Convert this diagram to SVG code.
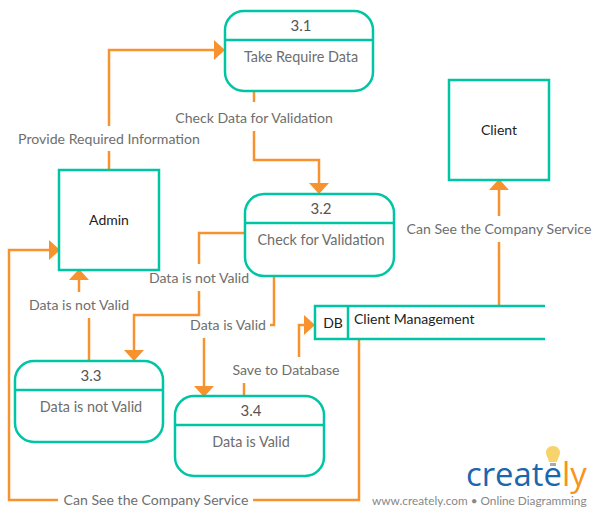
<svg xmlns="http://www.w3.org/2000/svg" width="601" height="517" viewBox="0 0 601 517">
<style>
text{font-family:Lato,"Open Sans","Liberation Sans",sans-serif}
.n{fill:#fff;stroke:#00c5a4;stroke-width:2.5}
.d{fill:none;stroke:#00c5a4;stroke-width:2.5}
.c{fill:none;stroke:#f7922e;stroke-width:2.5;marker-end:url(#h)}
.l{font-size:14.1px;fill:#6e6e6e;text-anchor:middle}
.m{font-size:14.4px;fill:#6e6e6e;text-anchor:middle}
.t{font-size:15px;fill:#555;text-anchor:middle}
.b{font-size:14px;fill:#222;text-anchor:middle}
</style>
<defs><marker id="h" markerUnits="userSpaceOnUse" markerWidth="12" markerHeight="22" refX="0" refY="11" orient="auto"><path d="M0 1L11 11L0 21Z" fill="#f7922e"/></marker></defs>
<g id="connectors">
<path class="c" d="M109 170V151M109 126V50H214"/>
<path class="c" d="M254 90V102M254 131V160H319V183"/>
<path class="c" d="M245 233H199V264M199 291V315H134V350"/>
<path class="c" d="M89 361V318M79 292V280"/>
<path class="c" d="M274 276V325H270M204 338V386"/>
<path class="c" d="M244 396V383M299 357V325H304"/>
<path class="c" d="M499 306V242M499 216V190"/>
<path class="c" d="M359 339V500H253M58 500H9V250H49"/>
</g>
<g id="node-3-1"><rect class="n" x="225" y="11" width="148" height="80" rx="19"/><path class="d" d="M225 40H373"/><text class="t" x="301" y="31">3.1</text><text class="m" x="301" y="62">Take Require Data</text></g>
<g id="node-3-2"><rect class="n" x="245" y="194" width="149" height="82" rx="19"/><path class="d" d="M245 223H394"/><text class="t" x="321" y="214">3.2</text><text class="m" x="321" y="245">Check for Validation</text></g>
<g id="node-3-3"><rect class="n" x="15" y="361" width="148" height="81" rx="19"/><path class="d" d="M15 390H163"/><text class="t" x="91" y="381">3.3</text><text class="m" x="91" y="412">Data is not Valid</text></g>
<g id="node-3-4"><rect class="n" x="175" y="396" width="149" height="80" rx="19"/><path class="d" d="M175 425H324"/><text class="t" x="251" y="416">3.4</text><text class="m" x="251" y="447">Data is Valid</text></g>
<g id="node-admin"><rect class="n" x="59" y="170" width="100" height="100"/><text class="b" x="109" y="225">Admin</text></g>
<g id="node-client"><rect class="n" x="449" y="80" width="100" height="100"/><text class="b" x="499" y="135">Client</text></g>
<g id="node-db"><path class="d" d="M545 306H315V339H545M348 306V339"/><text class="b" x="333" y="328">DB</text><text class="b" x="354" y="324" style="text-anchor:start">Client Management</text></g>
<g id="labels">
<text class="l" x="109" y="144">Provide Required Information</text>
<text class="l" x="254" y="123">Check Data for Validation</text>
<text class="l" x="199" y="283">Data is not Valid</text>
<text class="l" x="79" y="310">Data is not Valid</text>
<text class="l" x="228" y="330">Data is Valid</text>
<text class="l" x="286" y="375">Save to Database</text>
<text class="l" x="499" y="234">Can See the Company Service</text>
<text class="l" x="156" y="505">Can See the Company Service</text>
</g>
<g id="logo">
<path d="M553 446c4.500 0 7 3 7 6.500 0 3-2 5-3 9.500h-8c-1-4.500-3-6.500-3-9.500 0-3.500 2.500-6.500 7-6.500Z" fill="#f7d36b"/>
<rect x="550" y="463" width="6" height="3" fill="#aaa"/>
<text x="466" y="486" font-size="32.800" fill="#1b66ae" style="font-family:'Open Sans',sans-serif">create<tspan fill="#f7941e">ly</tspan></text>
<text x="372" y="505" font-size="11.800" fill="#888">www.creately.com • Online Diagramming</text>
</g>
</svg>
